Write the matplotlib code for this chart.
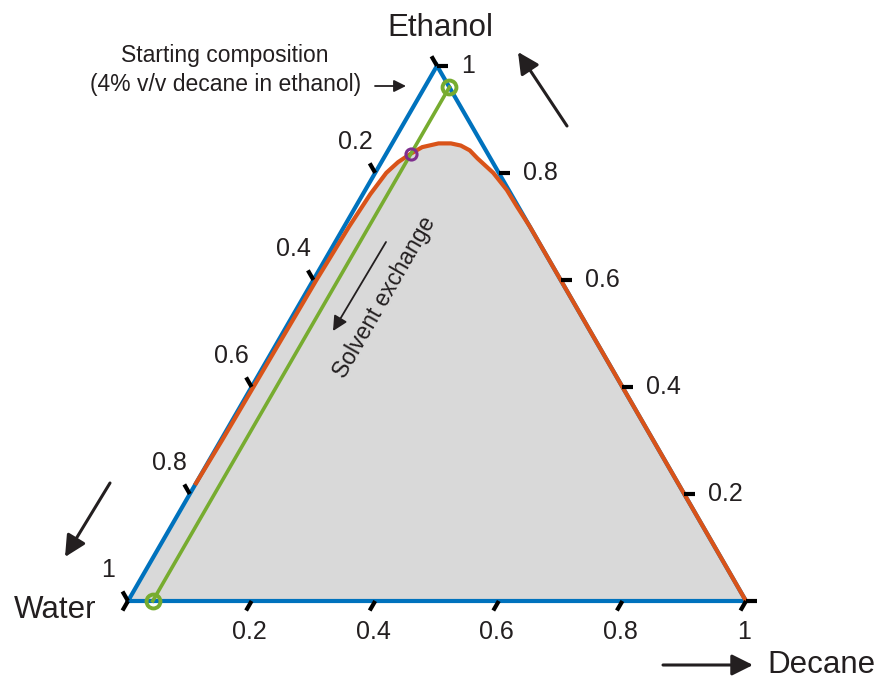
import numpy as np
import matplotlib
matplotlib.use('Agg')
import matplotlib.pyplot as plt

plt.rcParams['font.family'] = ['Liberation Sans', 'DejaVu Sans']

# ternary data (fractions of ethanol / decane, water = rest)
ticks = [0.0, 0.2, 0.4, 0.6, 0.8, 1.0]
tick_labels = ['', '0.2', '0.4', '0.6', '0.8', '1']

binodal_ethanol = [0.22, 0.30, 0.40, 0.50, 0.60, 0.70, 0.76, 0.80, 0.82, 0.835,
                   0.848, 0.855, 0.855, 0.851, 0.842, 0.827, 0.80, 0.768, 0.736, 0.70, 0.0]
binodal_decane = [0.0, 0.002, 0.003, 0.004, 0.005, 0.008, 0.012, 0.018, 0.027, 0.039,
                  0.052, 0.075, 0.095, 0.113, 0.132, 0.152, 0.191, 0.229, 0.262, 0.30, 1.0]

path_ethanol = [0.96, 0.0]     # solvent exchange path, start -> end
path_decane = [0.04, 0.04]
cloud_ethanol = 0.835
cloud_decane = 0.04

H = np.sqrt(3) / 2


def tern(e, d):
    e = np.asarray(e, dtype=float)
    d = np.asarray(d, dtype=float)
    return d + e / 2, e * H


fig = plt.figure(figsize=(8.78, 6.79), dpi=100)
ax = fig.add_axes([0, 0, 1, 1])
px = 1 / 618.0
ax.set_xlim(-128 * px, (878 - 128) * px)
ax.set_ylim(-(679 - 601) * px, 601 * px)
ax.axis('off')

blue = '#0072BD'
orange = '#D95319'
green = '#77AC30'
purple = '#7E2F8E'
txt = '#231f20'

# gray two-phase region
bx, by = tern(binodal_ethanol, binodal_decane)
ax.fill(np.r_[bx, 0.0], np.r_[by, 0.0], color='#d9d9d9', lw=0, zorder=1)

# triangle
ax.plot([0, 1, 0.5, 0], [0, 0, H, 0], color=blue, lw=3.0, zorder=2,
        solid_joinstyle='miter')

# binodal
ax.plot(bx, by, color=orange, lw=3.0, zorder=3)

# path
gx, gy = tern(path_ethanol, path_decane)
ax.plot(gx, gy, color=green, lw=2.6, zorder=4)
ax.plot(gx, gy, 'o', ms=10, mfc='none', mec=green, mew=2.8, zorder=5)
cx, cy = tern(cloud_ethanol, cloud_decane)
ax.plot(cx, cy, 'o', ms=8, mfc='none', mec=purple, mew=2.2, zorder=6)

# ticks
L = 11 * px
for t, lab in zip(ticks, tick_labels):
    # decane (bottom)
    x0, y0 = t, 0
    ax.plot([x0, x0 - 0.5 * L], [y0, y0 - H * L], color='k', lw=3,
            solid_capstyle='butt', zorder=7)
    ax.text(x0 - 2 * px, y0 - 31 * px, lab, fontsize=18, color=txt,
            ha='center', va='center')
    # ethanol (right)
    x0, y0 = tern(t, 1 - t)
    ax.plot([x0, x0 + L], [y0, y0], color='k', lw=3,
            solid_capstyle='butt', zorder=7)
    ax.text(x0 + 24 * px, y0, lab, fontsize=18, color=txt,
            ha='left', va='center')
    # water (left)
    x0, y0 = tern(1 - t, 0)
    ax.plot([x0, x0 - 0.5 * L], [y0, y0 + H * L], color='k', lw=3,
            solid_capstyle='butt', zorder=7)
    ax.text(x0 - 20 * px, y0 + 31 * px, lab, fontsize=18, color=txt,
            ha='center', va='center')

# corner names
ax.text((440 - 128) * px, (601 - 28) * px, 'Ethanol', fontsize=22.5, color=txt,
        ha='center', va='center')
ax.text((55 - 128) * px, (601 - 610) * px, 'Water', fontsize=22.5, color=txt,
        ha='center', va='center')
ax.text((767 - 128) * px, (601 - 665) * px, 'Decane', fontsize=22.5, color=txt,
        ha='left', va='center')

# annotations
ax.text((225 - 128) * px, (601 - 55) * px, 'Starting composition', fontsize=16.5,
        color=txt, ha='center', va='center')
ax.text((226 - 128) * px, (601 - 85) * px, '(4% v/v decane in ethanol)', fontsize=16.5,
        color=txt, ha='center', va='center')
ax.text((385 - 128) * px, (601 - 297) * px, 'Solvent exchange', fontsize=16.5,
        color=txt, ha='center', va='center', rotation=60)


def arrow(x1, y1, x2, y2, lw=2.2, ms=32):
    ax.annotate('', xy=((x2 - 128) * px, (601 - y2) * px),
                xytext=((x1 - 128) * px, (601 - y1) * px),
                arrowprops=dict(arrowstyle='-|>', color=txt, lw=lw,
                                mutation_scale=ms, shrinkA=0, shrinkB=0))


arrow(375, 86, 406, 86, lw=1.3, ms=18)
arrow(386, 242, 333, 331, lw=1.3, ms=22)
arrow(567, 126, 518, 52)
arrow(110, 483, 65, 557)
arrow(663, 665, 753, 665)

fig.savefig('out.png', dpi=100)
